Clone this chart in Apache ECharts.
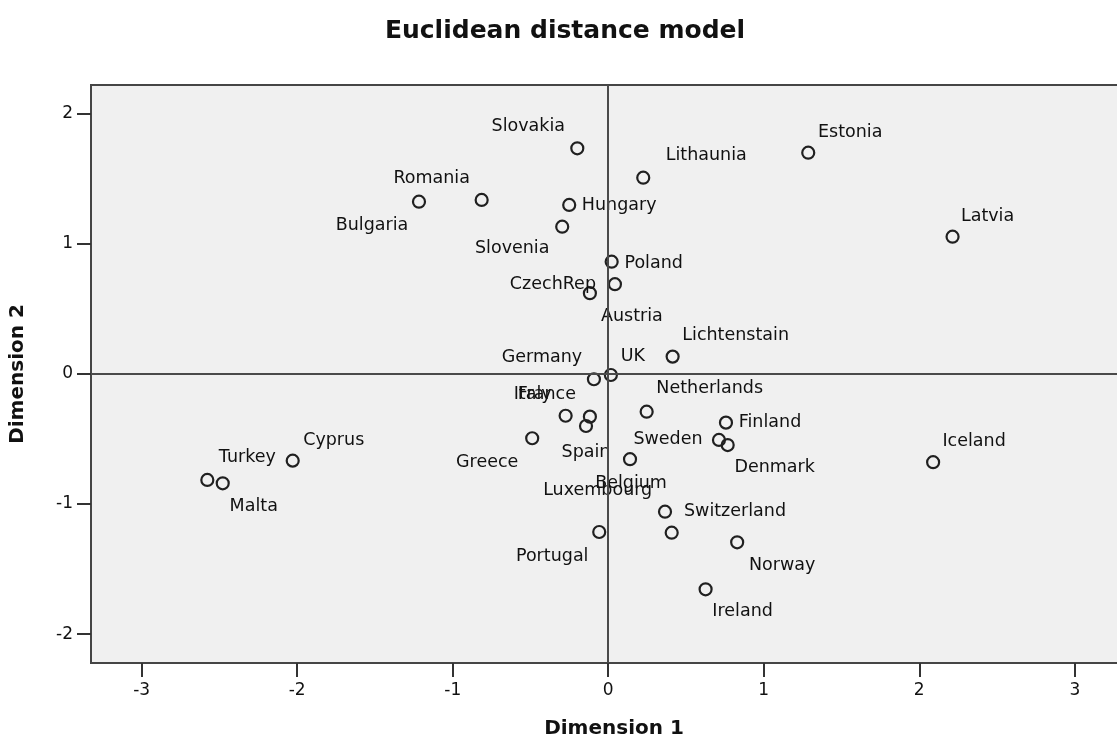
<!DOCTYPE html>
<html>
<head>
<meta charset="utf-8">
<style>
  html, body { margin: 0; padding: 0; background: #ffffff; }
  #chart { width: 1117px; height: 749px; }
</style>
<script src="https://cdn.jsdelivr.net/npm/echarts@6/dist/echarts.min.js"></script>
</head>
<body>
<div id="chart"></div>
<script>
// ---- Data ----
const countries = [
  'Slovakia', 'Lithaunia', 'Estonia', 'Latvia', 'Romania', 'Bulgaria', 'Hungary', 'Slovenia',
  'Poland', 'CzechRep', 'Austria', 'Lichtenstain', 'UK', 'Germany', 'Netherlands', 'Italy',
  'France', 'Spain', 'Greece', 'Sweden', 'Denmark', 'Finland', 'Iceland', 'Cyprus',
  'Turkey', 'Malta', 'Belgium', 'Luxembourg', 'Switzerland', 'Portugal', 'Norway', 'Ireland'
];
const dimension1 = [
  -0.199, 0.225, 1.286, 2.214, -0.814, -1.217, -0.251, -0.296,
  0.022, 0.043, -0.118, 0.414, 0.017, -0.092, 0.247, -0.274,
  -0.118, -0.143, -0.489, 0.712, 0.768, 0.757, 2.089, -2.029,
  -2.578, -2.479, 0.140, 0.408, 0.365, -0.058, 0.829, 0.626
];
const dimension2 = [
  1.731, 1.505, 1.697, 1.052, 1.334, 1.321, 1.296, 1.129,
  0.860, 0.687, 0.618, 0.131, -0.010, -0.043, -0.292, -0.323,
  -0.330, -0.402, -0.496, -0.509, -0.548, -0.376, -0.680, -0.668,
  -0.816, -0.842, -0.657, -1.221, -1.060, -1.216, -1.295, -1.656
];
const xTickValues = [-3, -2, -1, 0, 1, 2, 3];
const yTickValues = [-2, -1, 0, 1, 2];

// ---- Label placement (style: pixel offset of label centre from its point) ----
const labelOffset = {
  Slovakia: [-49, -22], Lithaunia: [63, -22], Estonia: [42, -20], Latvia: [35, -20],
  Romania: [-50, -22], Bulgaria: [-47, 24], Hungary: [50, 1], Slovenia: [-50, 22],
  Poland: [42, 2], CzechRep: [-62, 0], Austria: [42, 23], Lichtenstain: [63, -21],
  UK: [22, -19], Germany: [-52, -22], Netherlands: [63, -23], Italy: [-33, -21],
  France: [-43, -22], Spain: [0, 26], Greece: [-45, 24], Sweden: [-51, 0],
  Denmark: [47, 22], Finland: [44, 0], Iceland: [41, -21], Cyprus: [41, -20],
  Turkey: [40, -22], Malta: [31, 23], Belgium: [1, 24], Luxembourg: [-74, -42],
  Switzerland: [70, 0], Portugal: [-47, 24], Norway: [45, 23], Ireland: [37, 22]
};

const FONT = 'DejaVu Sans';
const TEXT = '#111111';

const points = countries.map((name, i) => ({
  name: name,
  value: [dimension1[i], dimension2[i]]
}));

const chart = echarts.init(document.getElementById('chart'), null, { renderer: 'canvas' });

chart.setOption({
  backgroundColor: '#ffffff',
  animation: false,
  title: {
    text: 'Euclidean distance model',
    left: 565,
    textAlign: 'center',
    top: 19,
    padding: 0,
    textStyle: { fontFamily: FONT, fontWeight: 'bold', fontSize: 25, color: TEXT }
  },
  grid: {
    left: 91, top: 85, width: 1046, height: 578,
    containLabel: false,
    outerBoundsMode: 'none',
    show: true,
    backgroundColor: '#f0f0f0',
    borderColor: '#454545',
    borderWidth: 2
  },
  xAxis: {
    type: 'value',
    min: -3.326, max: 3.4,
    name: 'Dimension 1',
    nameLocation: 'middle',
    nameGap: 56,
    nameTextStyle: { fontFamily: FONT, fontWeight: 'bold', fontSize: 20, color: TEXT },
    axisLine: { show: true, onZero: false, lineStyle: { color: '#454545', width: 2 } },
    axisTick: { show: true, length: 14, customValues: xTickValues, lineStyle: { color: '#333', width: 2 } },
    axisLabel: { customValues: xTickValues, margin: 19, fontFamily: FONT, fontSize: 17, color: TEXT },
    splitLine: { show: false }
  },
  yAxis: {
    type: 'value',
    min: -2.222, max: 2.217,
    name: 'Dimension 2',
    nameLocation: 'middle',
    nameGap: 63,
    nameTextStyle: { fontFamily: FONT, fontWeight: 'bold', fontSize: 20, color: TEXT },
    axisLine: { show: true, onZero: false, lineStyle: { color: '#454545', width: 2 } },
    axisTick: { show: true, length: 14, customValues: yTickValues, lineStyle: { color: '#333', width: 2 } },
    axisLabel: { customValues: yTickValues, margin: 18, fontFamily: FONT, fontSize: 17, color: TEXT },
    splitLine: { show: false }
  },
  series: [{
    type: 'scatter',
    data: points,
    symbol: 'circle',
    symbolSize: 12,
    itemStyle: { color: 'rgba(0,0,0,0)', borderColor: '#202020', borderWidth: 2.2, opacity: 1 },
    label: {
      show: true,
      position: 'inside',
      formatter: '{b}',
      align: 'center',
      verticalAlign: 'middle',
      fontFamily: FONT,
      fontSize: 17.5,
      color: TEXT,
      textBorderWidth: 0
    },
    labelLayout: function (params) {
      const off = labelOffset[countries[params.dataIndex]] || [0, 0];
      return { dx: off[0], dy: off[1], hideOverlap: false };
    },
    markLine: {
      silent: true,
      symbol: 'none',
      label: { show: false },
      lineStyle: { color: '#4a4a4a', width: 2, type: 'solid', opacity: 1 },
      data: [{ xAxis: 0 }, { yAxis: 0 }]
    },
    z: 3
  }]
});
</script>
</body>
</html>
